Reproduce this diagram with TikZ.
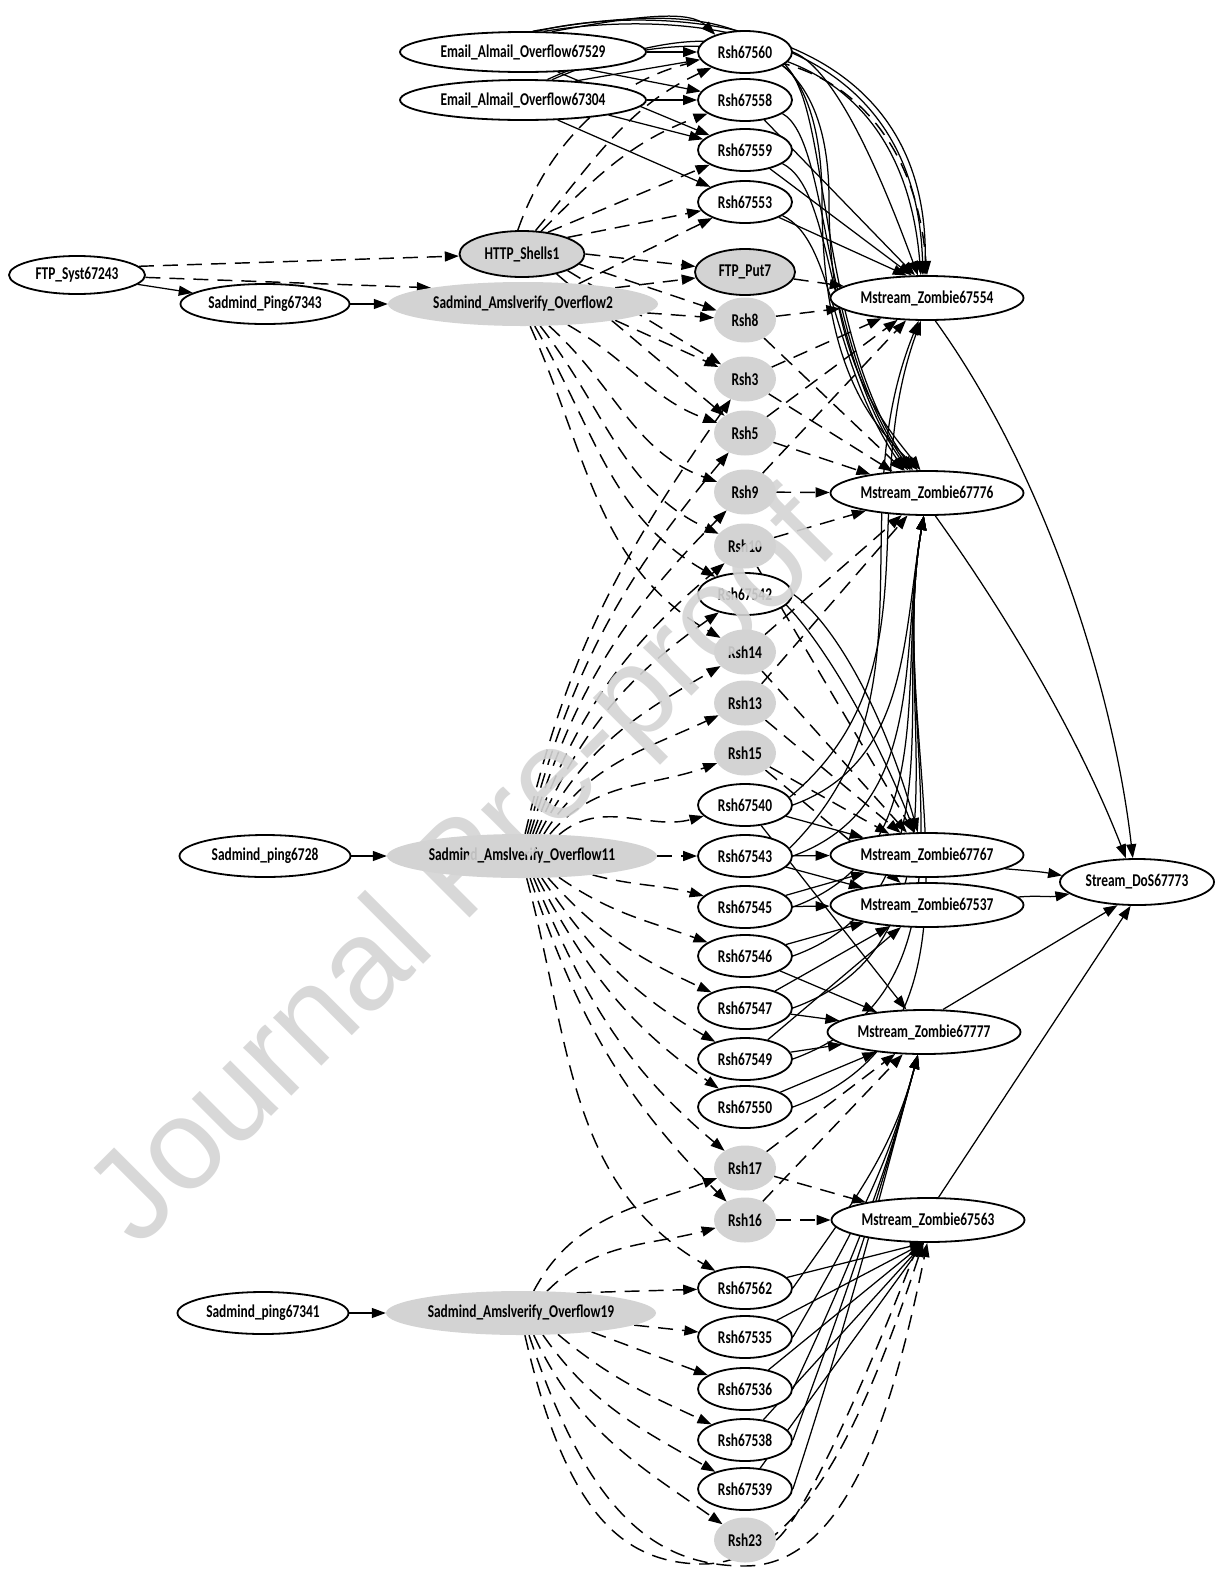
\documentclass[tikz,border=0pt]{standalone}
\usepackage{fontspec}
\setmainfont{Carlito}
\newfontfamily\lblfont[FakeStretch=0.745]{Carlito}
\newfontfamily\wmfont{Liberation Sans}
\usetikzlibrary{shapes.geometric,arrows.meta}
\definecolor{gfill}{RGB}{211,211,211}
\definecolor{wmcol}{RGB}{212,212,212}
\pgfdeclarelayer{edges}
\pgfdeclarelayer{wm}
\pgfsetlayers{edges,main,wm}
\begin{document}
\begin{tikzpicture}[x=1pt,y=1pt,
  lbl/.style={font=\lblfont\bfseries\fontsize{18}{19}\selectfont},
  nb/.style={ellipse, inner xsep=-12pt, inner ysep=-2pt, lbl},
  wn/.style={nb, draw, line width=1.8pt, fill=white, minimum width=#1, minimum height=42pt},
  gb/.style={nb, draw, line width=1.8pt, fill=gfill, minimum width=#1, minimum height=46pt},
  gf/.style={nb, fill=gfill, minimum width=#1, minimum height=45pt},
  sl/.style={line width=1.25pt, -{Triangle[length=14pt,width=10pt]}},
  dl/.style={sl, line width=1.45pt, dash pattern=on 15pt off 9pt},
]
\useasboundingbox (0,0) rectangle (1217,-1569);
% left columns
\node[wn=136, minimum height=38pt] (fsyst) at (77,-275) {FTP\_Syst67243};
\node[wn=169, minimum height=40pt] (p343) at (265,-304) {Sadmind\_Ping67343};
\node[wn=246, minimum height=40pt] (e529) at (523,-52) {Email\_Almail\_Overflow67529};
\node[wn=246, minimum height=40pt] (e304) at (523,-100) {Email\_Almail\_Overflow67304};
\node[gb=125] (http) at (522,-254) {HTTP\_Shells1};
\node[gf=270, minimum height=44pt] (o2) at (523,-304) {Sadmind\_Amslverify\_Overflow2};
\node[wn=171] (p728) at (265,-856) {Sadmind\_ping6728};
\node[gf=270, minimum height=44pt] (o11) at (522,-856) {Sadmind\_Amslverify\_Overflow11};
\node[wn=171] (p341) at (263,-1313) {Sadmind\_ping67341};
\node[gf=270, minimum height=44pt] (o19) at (521,-1313) {Sadmind\_Amslverify\_Overflow19};
% Rsh column
\node[wn=94] (r560) at (745,-52) {Rsh67560};
\node[wn=94] (r558) at (745,-100) {Rsh67558};
\node[wn=94] (r559) at (745,-150) {Rsh67559};
\node[wn=94] (r553) at (745,-202) {Rsh67553};
\node[gb=100] (fput) at (745,-272) {FTP\_Put7};
\node[gf=62] (r8) at (745,-320) {Rsh8};
\node[gf=62] (r3) at (745,-379) {Rsh3};
\node[gf=62] (r5) at (745,-433) {Rsh5};
\node[gf=62] (r9) at (745,-492) {Rsh9};
\node[gf=62] (r10) at (745,-546) {Rsh10};
\node[wn=94] (r542) at (745,-594) {Rsh67542};
\node[gf=62] (r14) at (745,-652) {Rsh14};
\node[gf=62] (r13) at (745,-703) {Rsh13};
\node[gf=62] (r15) at (745,-753) {Rsh15};
\node[wn=94] (r540) at (745,-805) {Rsh67540};
\node[wn=94] (r543) at (745,-856) {Rsh67543};
\node[wn=94] (r545) at (745,-907) {Rsh67545};
\node[wn=94] (r546) at (745,-956) {Rsh67546};
\node[wn=94] (r547) at (745,-1008) {Rsh67547};
\node[wn=94] (r549) at (745,-1059) {Rsh67549};
\node[wn=94] (r550) at (745,-1107) {Rsh67550};
\node[gf=62] (r17) at (745,-1168) {Rsh17};
\node[gf=62] (r16) at (745,-1220) {Rsh16};
\node[wn=94] (r562) at (745,-1288) {Rsh67562};
\node[wn=94] (r535) at (745,-1337) {Rsh67535};
\node[wn=94] (r536) at (745,-1389) {Rsh67536};
\node[wn=94] (r538) at (745,-1440) {Rsh67538};
\node[wn=94] (r539) at (745,-1489) {Rsh67539};
\node[gf=62] (r23) at (745,-1540) {Rsh23};
% Mstream column
\node[wn=193, minimum height=44pt] (m554) at (927,-298) {Mstream\_Zombie67554};
\node[wn=193, minimum height=44pt] (m776) at (927,-493) {Mstream\_Zombie67776};
\node[wn=193, minimum height=44pt] (m767) at (927,-855) {Mstream\_Zombie67767};
\node[wn=193, minimum height=44pt] (m537) at (927,-905) {Mstream\_Zombie67537};
\node[wn=193, minimum height=44pt] (m777) at (924,-1032) {Mstream\_Zombie67777};
\node[wn=193, minimum height=44pt] (m563) at (928,-1220) {Mstream\_Zombie67563};
\node[wn=154, minimum height=46pt] (dos) at (1137,-882) {Stream\_DoS67773};

\begin{pgfonlayer}{edges}
% left solid
\draw[sl] (fsyst) -- (p343);
\draw[sl] (p343) -- (o2);
\draw[sl] (p728) -- (o11);
\draw[sl] (p341) -- (o19);
\draw[dl] (fsyst.8) -- (http);
\draw[dl] (fsyst.-2) -- (o2.170);
% email
\draw[sl] (e529) -- (r560);
\draw[sl] (e529.-15) -- (r558);
\draw[sl] (e529.-30) -- (r559);
\draw[sl] (e304) -- (r558);
\draw[sl] (e304.20) -- (r560);
\draw[sl] (e304.-30) -- (r553);
\draw[sl] (e304.-10) -- (r559);
\draw[sl] (e529.35) .. controls (640,-15) and (690,-10) .. (r560.150);
\draw[sl] (e529.55) .. controls (640,-5) and (930,-5) .. (m554.95);
\draw[sl] (e529.45) .. controls (660,-12) and (915,-12) .. (m554.100);
\draw[sl] (e304.40) .. controls (680,-18) and (900,-22) .. (m554.105);
\draw[sl] (e529.65) .. controls (720,2) and (822,-20) .. (822,-200) .. controls (822,-380) and (880,-430) .. (m776.112);
\draw[sl] (e304.35) .. controls (720,-8) and (829,-30) .. (829,-200) .. controls (829,-370) and (890,-430) .. (m776.106);
% top Rsh -> Mstream
\draw[sl] (r560.east) .. controls (840,-70) and (890,-200) .. (m554.112);
\draw[sl] (r558) -- (m554.118);
\draw[sl] (r559) -- (m554.124);
\draw[sl] (r553) -- (m554.132);
\draw[sl] (r560.-20) .. controls (830,-90) and (815,-330) .. (m776.122);
\draw[sl] (r558.-20) .. controls (830,-140) and (820,-340) .. (m776.126);
\draw[sl] (r559.-20) .. controls (835,-190) and (825,-350) .. (m776.130);
\draw[sl] (r553.-20) .. controls (835,-240) and (830,-360) .. (m776.135);
% http dashed
\draw[dl] (http.100) .. controls (600,5) and (905,5) .. (m554.90);
\draw[dl] (http.60) to[out=50,in=205] (r560);
\draw[dl] (http.50) to[out=45,in=200] (r558);
\draw[dl] (http.40) -- (r559);
\draw[dl] (http.20) -- (r553);
\draw[dl] (http.east) -- (fput);
\draw[dl] (http.-10) -- (r8);
\draw[dl] (http.-20) -- (r3);
\draw[dl] (http.-30) -- (r5);
% o2 dashed
\draw[dl] (o2.20) -- (r553);
\draw[dl] (o2.10) -- (fput);
\draw[dl] (o2) -- (r8);
\draw[dl] (o2.-10) -- (r3);
\draw[dl] (o2.-25) to[out=-30,in=160] (r5);
\draw[dl] (o2.-40) to[out=-42,in=160] (r9);
\draw[dl] (o2.-52) to[out=-52,in=155] (r10);
\draw[dl] (o2.-62) to[out=-60,in=150] (r542);
\draw[dl] (o2.-72) to[out=-66,in=150] (r14);
% o11 dashed up
\draw[dl] (o11.30) to[out=40,in=195] (r540);
\draw[dl] (o11.38) to[out=50,in=200] (r15);
\draw[dl] (o11.45) to[out=58,in=205] (r13);
\draw[dl] (o11.52) to[out=63,in=210] (r14);
\draw[dl] (o11.58) to[out=67,in=215] (r542);
\draw[dl] (o11.64) to[out=70,in=220] (r10);
\draw[dl] (o11.70) to[out=73,in=225] (r9);
\draw[dl] (o11.76) to[out=75,in=230] (r5);
\draw[dl] (o11.82) to[out=77,in=235] (r3);
% o11 dashed down
\draw[dl] (o11) -- (r543);
\draw[dl] (o11.-15) to[out=-15,in=165] (r545);
\draw[dl] (o11.-30) to[out=-35,in=160] (r546);
\draw[dl] (o11.-40) to[out=-48,in=155] (r547);
\draw[dl] (o11.-48) to[out=-56,in=150] (r549);
\draw[dl] (o11.-55) to[out=-62,in=145] (r550);
\draw[dl] (o11.-62) to[out=-67,in=140] (r17);
\draw[dl] (o11.-70) to[out=-71,in=135] (r16);
\draw[dl] (o11.-78) to[out=-75,in=150] (r562);
% o19 dashed
\draw[dl] (o19.60) to[out=62,in=200] (r17);
\draw[dl] (o19.40) to[out=45,in=195] (r16);
\draw[dl] (o19.20) -- (r562);
\draw[dl] (o19) -- (r535);
\draw[dl] (o19.-15) -- (r536);
\draw[dl] (o19.-30) to[out=-40,in=155] (r538);
\draw[dl] (o19.-45) to[out=-55,in=150] (r539);
\draw[dl] (o19.-60) to[out=-65,in=145] (r23);
\draw[dl] (o19.-70) .. controls (590,-1520) and (660,-1566) .. (745,-1566) .. controls (850,-1566) and (895,-1400) .. (m563.-92);
\draw[dl] (o19.-80) .. controls (565,-1510) and (620,-1562) .. (700,-1564) .. controls (800,-1566) and (865,-1420) .. (m563.-102);
\draw[dl] (r23.east) .. controls (800,-1520) and (850,-1420) .. (m563.-112);
% gray Rsh -> Mstream dashed
\draw[dl] (fput) -- (m554);
\draw[dl] (r8) -- (m554);
\draw[dl] (r8) -- (m776);
\draw[dl] (r3) -- (m554);
\draw[dl] (r3) -- (m776);
\draw[dl] (r5) -- (m554);
\draw[dl] (r5) -- (m776);
\draw[dl] (r9) -- (m776);
\draw[dl] (r9) -- (m554);
\draw[dl] (r10) -- (m776);
\draw[dl] (r10) -- (m767);
\draw[dl] (r14) -- (m767);
\draw[dl] (r14) -- (m776);
\draw[dl] (r13) -- (m767);
\draw[dl] (r13) -- (m776);
\draw[dl] (r15) -- (m767);
\draw[dl] (r15) -- (m537);
\draw[dl] (r17) -- (m777);
\draw[dl] (r17) -- (m563);
\draw[dl] (r16) -- (m563);
\draw[dl] (r16) -- (m777);
% middle Rsh -> Mstream solid
\draw[sl] (r542.east) .. controls (830,-620) and (880,-700) .. (m767.112);
\draw[sl] (r542.-15) .. controls (820,-640) and (870,-720) .. (m767.118);
\foreach \n in {r540,r543,r545,r546,r547,r549,r550}
  \draw[sl] (\n.east) to[out=20,in=-100] (m776.-98);
\draw[sl] (r540.10) to[out=40,in=-110] (m554.-105);
\draw[sl] (r543.10) to[out=45,in=-112] (m554.-110);
\draw[sl] (r540) -- (m767);
\draw[sl] (r543) -- (m767);
\draw[sl] (r545) -- (m767);
\draw[sl] (r543) -- (m537);
\draw[sl] (r545) -- (m537);
\draw[sl] (r546) -- (m537);
\draw[sl] (r547) -- (m537);
\draw[sl] (r540) -- (m777);
\draw[sl] (r546) -- (m777);
\draw[sl] (r547) -- (m777);
\draw[sl] (r549) -- (m777);
\draw[sl] (r550) -- (m777);
\draw[sl] (r549) -- (m537);
% bottom Rsh -> Mstream
\foreach \n in {r562,r535,r536,r538,r539}
  \draw[sl] (\n) -- (m563.-100);
\foreach \n/\a in {r562/55,r535/60,r536/65,r538/70,r539/72}
  \draw[sl] (\n.east) to[out=\a,in=-105] (m777.-105);
% Mstream -> DoS
\draw[sl] (m554.-70) .. controls (1050,-480) and (1115,-700) .. (dos.100);
\draw[sl] (m776.-70) .. controls (1010,-620) and (1080,-740) .. (dos.115);
\draw[sl] (m767.-10) to[out=-5,in=170] (dos.175);
\draw[sl] (m537.5) to[out=5,in=-170] (dos.-170);
\draw[sl] (m777.50) -- (dos.-130);
\draw[sl] (m563.65) -- (dos.-105);
\end{pgfonlayer}

\begin{pgfonlayer}{wm}
\node[rotate=45, anchor=base west, text=wmcol, opacity=0.9, font=\wmfont\fontsize{129}{129}\selectfont] (wmark) at (136,-1252) {Journal Pre-proof};
\end{pgfonlayer}
\end{tikzpicture}
\end{document}
